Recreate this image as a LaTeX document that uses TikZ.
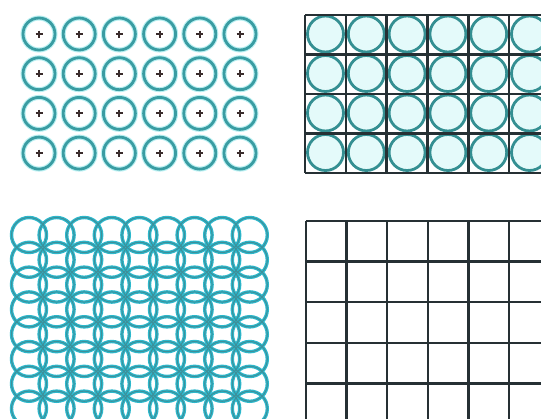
\documentclass[tikz,border=0pt]{standalone}
\begin{document}
\begin{tikzpicture}[x=1pt,y=-1pt]
\definecolor{ring}{HTML}{3A9CA2}
\definecolor{halo}{HTML}{B8F0F2}
\definecolor{ringb}{HTML}{348F92}
\definecolor{gridc}{HTML}{263034}
\definecolor{cellfill}{HTML}{E4FAFA}
\definecolor{mesh}{HTML}{2CB8CC}
\definecolor{meshdark}{HTML}{3E8F99}
\definecolor{dot}{HTML}{3A2C2C}
\tikzset{
  ringA/.style={draw=ring,line width=2.8},
  haloA/.style={draw=halo,line width=5},
  plusA/.style={draw=dot,line width=1.9},
  ringB/.style={draw=ringb,line width=2.8,fill=cellfill},
  gridB/.style={draw=gridc,line width=2.6},
  meshA/.style={draw=mesh,line width=3.4},
  meshB/.style={draw=meshdark,line width=1.0},
  gridD/.style={draw=gridc,line width=2.4}
}
\useasboundingbox (0,0) rectangle (541,418);
\fill[white] (0,0) rectangle (541,418);
% ---- top-left: separated atoms
\foreach \i in {0,...,5}{
  \foreach \j in {0,...,3}{
    \pgfmathsetmacro{\cx}{39+40.2*\i}
    \pgfmathsetmacro{\cy}{34+39.7*\j}
    \draw[haloA] (\cx,\cy) circle (16);
    \draw[ringA] (\cx,\cy) circle (16);
    \draw[plusA] (\cx-3.5,\cy) -- (\cx+3.5,\cy) (\cx,\cy-3.5) -- (\cx,\cy+3.5);
  }
}
% ---- top-right: atoms in a grid
\foreach \i in {0,...,6}{
  \foreach \j in {0,...,3}{
    \pgfmathsetmacro{\cx}{325.5+40.8*\i}
    \pgfmathsetmacro{\cy}{34+39.5*\j}
    \draw[ringB] (\cx,\cy) circle (18);
  }
}
\foreach \i in {0,...,6}{
  \pgfmathsetmacro{\gx}{305+40.8*\i}
  \draw[gridB] (\gx,15) -- (\gx,173);
}
\foreach \j in {0,...,4}{
  \pgfmathsetmacro{\gy}{15+39.5*\j}
  \draw[gridB] (305,\gy) -- (545,\gy);
}
% ---- bottom-left: overlapping atoms
\foreach \i in {0,...,8}{
  \foreach \j in {0,...,7}{
    \pgfmathsetmacro{\cx}{29+27.6*\i}
    \pgfmathsetmacro{\cy}{235+24.8*\j}
    \draw[meshA] (\cx,\cy) circle (17.5);
  }
}
\foreach \i in {0,...,8}{
  \foreach \j in {0,...,7}{
    \pgfmathsetmacro{\cx}{29+27.6*\i}
    \pgfmathsetmacro{\cy}{235+24.8*\j}
    \draw[meshB] (\cx,\cy) circle (17.5);
  }
}
% ---- bottom-right: bare grid
\foreach \i in {0,...,6}{
  \pgfmathsetmacro{\gx}{306+40.6*\i}
  \draw[gridD] (\gx,221) -- (\gx,420);
}
\foreach \j in {0,...,4}{
  \pgfmathsetmacro{\gy}{221+40.6*\j}
  \draw[gridD] (306,\gy) -- (545,\gy);
}
\end{tikzpicture}
\end{document}
